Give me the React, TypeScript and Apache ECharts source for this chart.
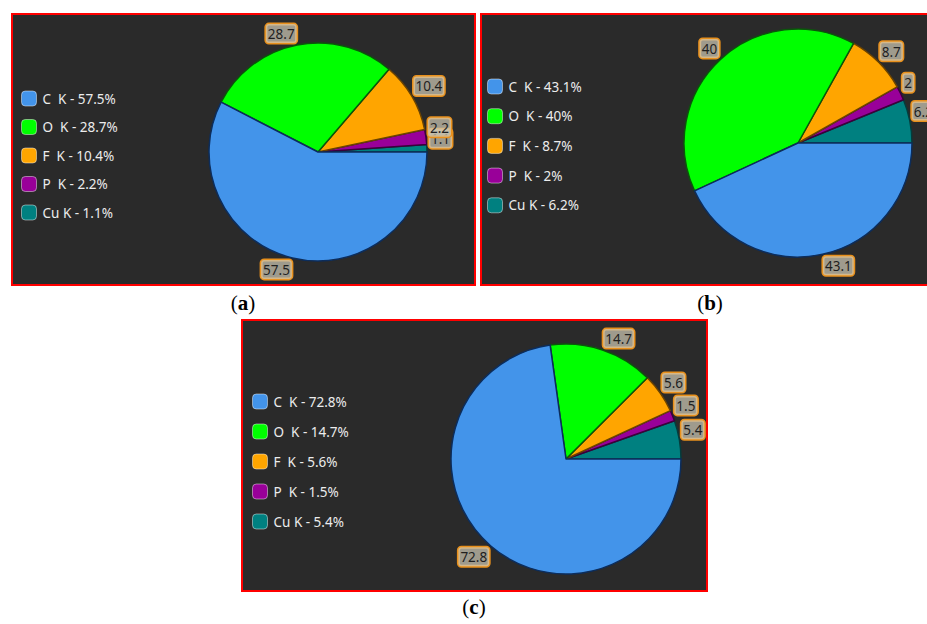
import React, { useEffect, useRef } from "react";
import * as echarts from "echarts";

// EDS element lines and the weight % found in each of the three spectra
const ELEMENTS = ["C", "O", "F", "P", "Cu"];
const COLORS = ["#4394ea", "#00ff00", "#ffa500", "#990099", "#008080"];
const EDGE_COLORS = ["#0c2d5c", "#0a560a", "#6b4300", "#3b003b", "#053c3c"];
const WT_A = [57.5, 28.7, 10.4, 2.2, 1.1];
const WT_B = [43.1, 40, 8.7, 2, 6.2];
const WT_C = [72.8, 14.7, 5.6, 1.5, 5.4];
const CAPTIONS = ["a", "b", "c"];

// slices run counter-clockwise from 3 o'clock: Cu, P, F, O, C
const PIE_ORDER = [4, 3, 2, 1, 0];

const FONT = "Noto Sans";

const PANELS = [
  { values: WT_A, box: [12, 14, 463, 271], center: [318, 152], radius: 109, legend: [21, 90.5, 12.5], captionPos: [243, 303] },
  { values: WT_B, box: [481, 14, 480, 271], center: [798, 143], radius: 114, legend: [487, 78.5, 13.7], captionPos: [710, 303] },
  { values: WT_C, box: [242, 320, 465, 271], center: [566, 459], radius: 115, legend: [252, 393.5, 14], captionPos: [474, 607] },
];

const lineName = (el: string) => (el.length === 1 ? el + "\u00a0\u00a0K" : el + " K");
const entryName = (el: string, v: number) => `${lineName(el)} - ${v}%`;

function buildOption() {
  const series: any[] = [];
  const legends: any[] = [];
  const graphics: any[] = [];

  PANELS.forEach((panel, pi) => {
    const { values, box, center, radius, legend, captionPos } = panel;
    const ordered = PIE_ORDER.map((i) => values[i]);
    const total = ordered.reduce((a, b) => a + b, 0);

    graphics.push({
      type: "rect",
      z: -10,
      shape: { x: box[0], y: box[1], width: box[2], height: box[3] },
      style: { fill: "#2a2a2a", stroke: "#ff0000", lineWidth: 2 },
    });
    graphics.push({
      type: "text",
      x: captionPos[0],
      y: captionPos[1],
      style: {
        text: `{p|(}{b|${CAPTIONS[pi]}}{p|)}`,
        align: "center",
        verticalAlign: "middle",
        rich: {
          p: { fontFamily: "Liberation Serif", fontSize: 21, fill: "#000" },
          b: { fontFamily: "Liberation Serif", fontSize: 21, fontWeight: "bold", fill: "#000" },
        },
      },
    });

    legends.push({
      orient: "vertical",
      left: legend[0],
      top: legend[1],
      itemGap: legend[2],
      itemWidth: 15,
      itemHeight: 15,
      icon: "roundRect",
      selectedMode: false,
      padding: 0,
      itemStyle: { borderColor: "rgba(255,255,255,0.45)", borderWidth: 1 },
      textStyle: { color: "#ececec", fontSize: 13.5, fontFamily: FONT, padding: [0, 0, 0, 1] },
      data: ELEMENTS.map((el, i) => entryName(el, values[i])),
    });

    series.push({
      type: "pie",
      left: 0,
      top: 0,
      width: 1400,
      height: 624,
      center,
      radius,
      startAngle: 0,
      clockwise: false,
      avoidLabelOverlap: false,
      data: PIE_ORDER.map((i) => ({
        name: entryName(ELEMENTS[i], values[i]),
        value: values[i],
        itemStyle: { color: COLORS[i], borderColor: EDGE_COLORS[i], borderWidth: 1.5 },
      })),
      label: {
        show: true,
        position: "outside",
        overflow: "none",
        formatter: (p: any) => String(p.value),
        color: "#1f1f1f",
        fontSize: 13.5,
        fontFamily: FONT,
        backgroundColor: "rgba(205,200,180,0.72)",
        borderColor: "#e8901c",
        borderWidth: 1.5,
        borderRadius: 3,
        padding: [3, 2, 2, 2],
      },
      labelLine: { show: false },
      emphasis: { disabled: true },
      labelLayout: (p: any) => {
        let acc = 0;
        for (let k = 0; k < p.dataIndex; k++) acc += ordered[k];
        const mid = ((acc + ordered[p.dataIndex] / 2) / total) * Math.PI * 2;
        const dx = Math.cos(mid);
        const dy = -Math.sin(mid);
        const d = radius + 2;
        return {
          x: center[0] + dx * d,
          y: center[1] + dy * d,
          align: dx >= 0 ? "left" : "right",
          verticalAlign: dy >= 0 ? "top" : "bottom",
        };
      },
    });
  });

  return {
    animation: false,
    backgroundColor: "#ffffff",
    legend: legends,
    series,
    graphic: graphics,
  };
}

export default function App() {
  const ref = useRef<HTMLDivElement>(null);
  useEffect(() => {
    if (!ref.current) return;
    const chart = echarts.init(ref.current, undefined, { renderer: "svg" });
    chart.setOption(buildOption() as any);
    return () => chart.dispose();
  }, []);
  return (
    <div
      ref={ref}
      style={{ position: "absolute", left: 0, top: 0, width: 927, height: 624 }}
    />
  );
}
